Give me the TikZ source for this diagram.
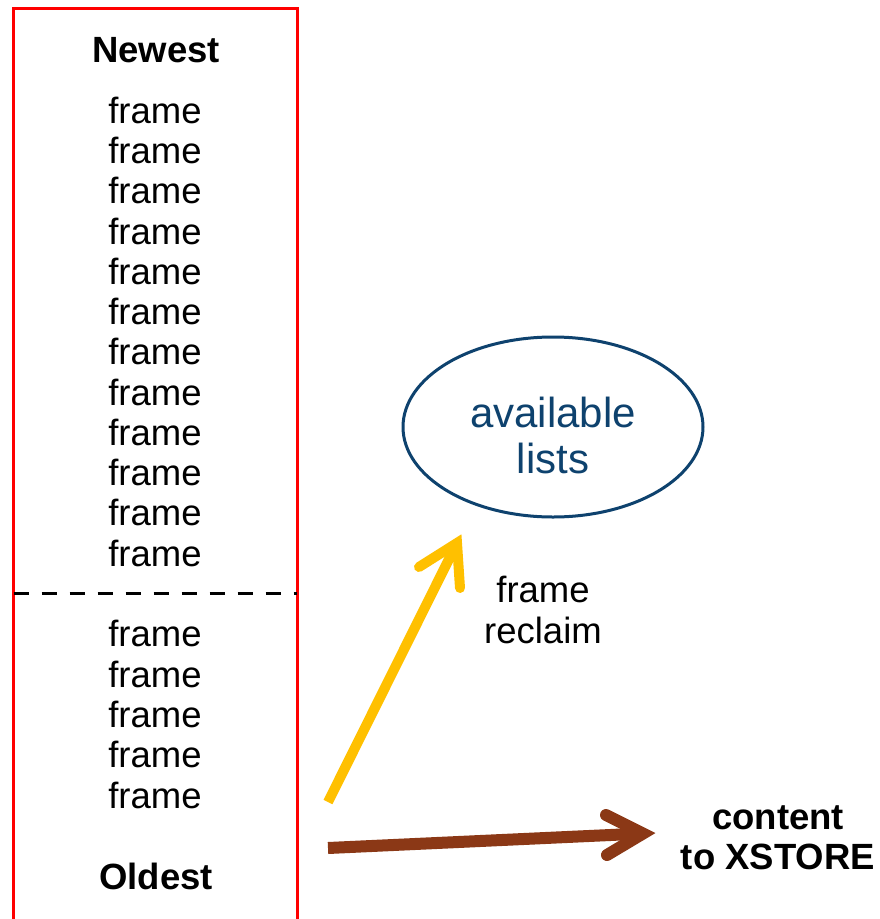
\documentclass[tikz,border=0pt]{standalone}
\usepackage{fontspec}
\setmainfont{Liberation Sans}
\usetikzlibrary{shapes.geometric,calc}
\definecolor{boxred}{RGB}{255,0,0}
\definecolor{listblue}{RGB}{14,66,110}
\definecolor{reclaimyellow}{RGB}{255,192,0}
\definecolor{storebrown}{RGB}{139,56,22}
\tikzset{
  framebox/.style={draw=boxred, line width=3pt},
  splitline/.style={draw=black, line width=3pt, dash pattern=on 15pt off 13pt},
  lbl/.style={anchor=base, inner sep=0pt, font=\fontsize{36.5}{40}\selectfont},
  boldlbl/.style={lbl, font=\fontsize{36.5}{40}\selectfont\bfseries},
  listlbl/.style={anchor=base, inner sep=0pt, text=listblue, font=\fontsize{42}{47}\selectfont},
  pool/.style={ellipse, draw=listblue, line width=3pt, minimum width=300pt, minimum height=180pt, inner sep=0pt},
  reclaimshaft/.style={draw=reclaimyellow, line width=10pt},
  reclaimhead/.style={draw=reclaimyellow, line width=10pt, line cap=round, line join=miter},
  storeshaft/.style={draw=storebrown, line width=12pt},
  storehead/.style={draw=storebrown, line width=12pt, line cap=round, line join=miter},
}
\begin{document}
\begin{tikzpicture}[x=1pt, y=-1pt]
\useasboundingbox (0,0) rectangle (880,919);
\fill[white] (0,0) rectangle (880,919);

% frame stack, open at the bottom
\draw[framebox] (13.5,940) -- (13.5,8.5) -- (297,8.5) -- (297,940);
\coordinate (splitL) at (13.5,593);
\coordinate (splitR) at (297,593);
\draw[splitline] (splitL) -- (splitR);

\node[boldlbl] (newest) at (156,62) {Newest};
\foreach \i/\y in {1/123,2/163,3/203,4/244,5/284,6/324,7/364,8/405,9/445,10/485,11/525,12/566,
                   13/646,14/687,15/727,16/767,17/808}
  \node[lbl] (frame\i) at (155,\y) {frame};
\node[boldlbl] (oldest) at (156,889) {Oldest};

% free lists
\node[pool] (avail) at (553,427) {};
\node[listlbl] (availtxt) at (553,427) {available};
\node[listlbl] (liststxt) at (553,473) {lists};

\node[lbl] (reclaim1) at (543,602) {frame};
\node[lbl] (reclaim2) at (543,643) {reclaim};

\node[boldlbl] (content1) at (778,829) {content};
\node[boldlbl] (content2) at (778,869) {to XSTORE};

% frame reclaim arrow
\coordinate (ytail) at (328,802);
\coordinate (ytip) at (457,543);
\coordinate (yarmA) at (419,567);
\coordinate (yarmB) at (460,588);
\draw[reclaimshaft] (ytail) -- ($(ytip)!8pt!(ytail)$);
\draw[reclaimhead] (yarmA) -- (ytip) -- (yarmB);

% write-out arrow
\coordinate (btail) at (328,848);
\coordinate (btip) at (643,833.5);
\coordinate (barmA) at (606,815);
\coordinate (barmB) at (607,855);
\draw[storeshaft] (btail) -- ($(btip)!8pt!(btail)$);
\draw[storehead] (barmA) -- (btip) -- (barmB);
\end{tikzpicture}
\end{document}
